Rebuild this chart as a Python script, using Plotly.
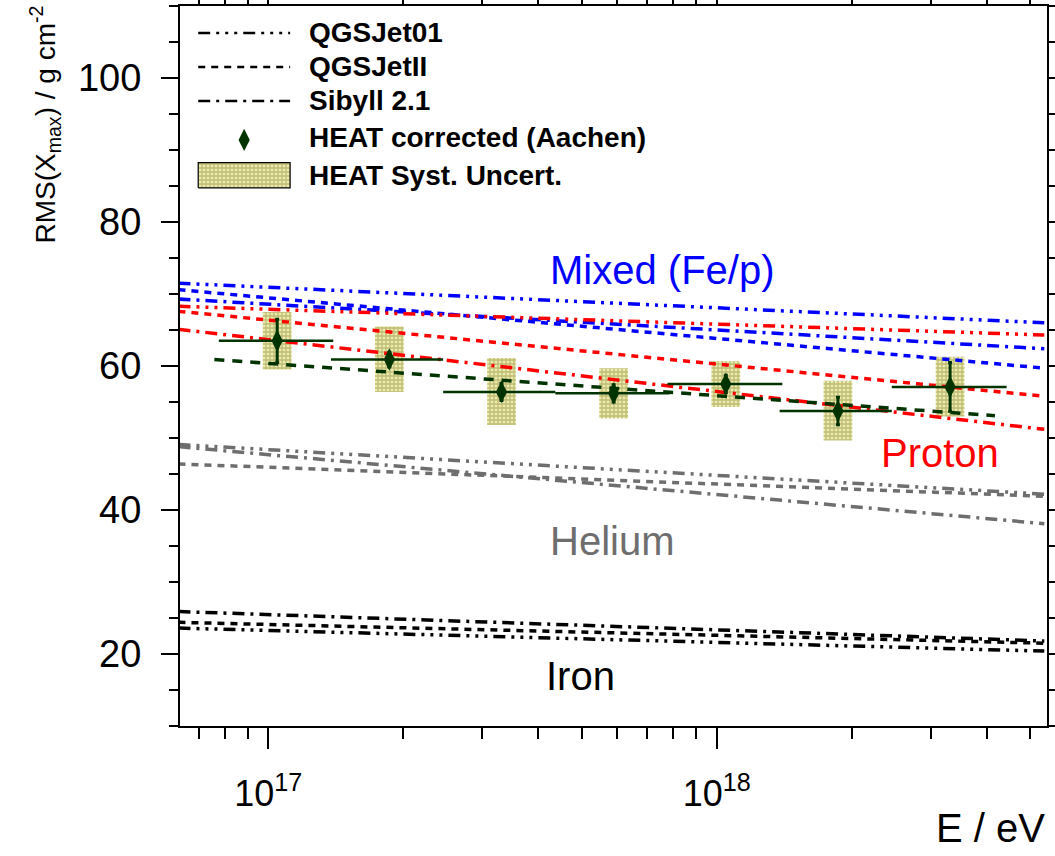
import plotly.graph_objects as go

# ---------------------------------------------------------------
# Model predictions: RMS(Xmax) at the two ends of the energy range
# ---------------------------------------------------------------
lg_model = [16.80, 18.73]          # log10(E / eV)

proton_qgsjet01 = [68.3, 64.3]
proton_qgsjetII = [67.6, 55.8]
proton_sibyll = [65.1, 51.2]

mixed_qgsjet01 = [71.5, 66.0]
mixed_qgsjetII = [70.6, 59.7]
mixed_sibyll = [69.3, 62.4]

helium_qgsjet01 = [49.1, 42.2]
helium_qgsjetII = [46.4, 41.9]
helium_sibyll = [48.8, 38.1]

iron_qgsjet01 = [23.6, 20.4]
iron_qgsjetII = [24.4, 21.5]
iron_sibyll = [25.9, 21.8]

# ---------------------------------------------------------------
# HEAT measurement (bins in log10(E / eV))
# ---------------------------------------------------------------
heat_lgE = [17.02, 17.27, 17.52, 17.77, 18.02, 18.27, 18.52]
heat_lgE_lo = [16.89, 17.14, 17.39, 17.64, 17.89, 18.14, 18.39]
heat_lgE_hi = [17.145, 17.39, 17.64, 17.895, 18.146, 18.39, 18.646]
heat_rms = [63.5, 60.9, 56.4, 56.2, 57.5, 53.75, 57.1]
heat_stat = [3.0, 1.0, 1.2, 1.2, 1.2, 1.9, 3.4]
heat_sys_up = [4.0, 4.6, 4.7, 3.5, 3.2, 4.2, 4.2]
heat_sys_down = [4.0, 4.5, 4.6, 3.5, 3.2, 4.1, 4.1]

# straight-line fit through the HEAT points
fit_lgE = [16.88, 18.62]
fit_rms = [60.9, 53.1]

# legend and region labels
legend_labels = ["QGSJet01", "QGSJetII", "Sibyll 2.1",
                 "HEAT corrected (Aachen)", "HEAT Syst. Uncert."]
region_labels = ["Mixed (Fe/p)", "Proton", "Helium", "Iron"]

# ---------------------------------------------------------------
FONT = "Liberation Sans, Arial, Helvetica, sans-serif"
RED, BLUE, GREY, BLACK = "#ff0000", "#0000ff", "#6e6e6e", "#000000"
GREEN = "#003300"
OLIVE = "#8f8b2c"
OLIVE_BG = "#ecebb4"

DASH_QGS01 = "12px,6px,3px,6px,3px,6px,3px,6px"
DASH_QGSII = "7px,6px"
DASH_SIB = "12px,6px,3px,6px"

E_model = [10 ** v for v in lg_model]

fig = go.Figure()

# --- systematic uncertainty boxes (hatched) ---
BOX_HW = 0.032  # half width of a box in decades
bx, by = [], []
for lg, r, up, dn in zip(heat_lgE, heat_rms, heat_sys_up, heat_sys_down):
    x0, x1 = 10 ** (lg - BOX_HW), 10 ** (lg + BOX_HW)
    bx += [x0, x1, x1, x0, x0, None]
    by += [r - dn, r - dn, r + up, r + up, r - dn, None]
fig.add_trace(go.Scatter(
    x=bx, y=by, mode="lines", fill="toself",
    line=dict(width=0, color=OLIVE),
    fillcolor="rgba(0,0,0,0)",
    fillpattern=dict(shape="+", fgcolor=OLIVE, bgcolor=OLIVE_BG,
                     size=4, solidity=0.55),
    hoverinfo="skip", showlegend=False))

# --- model lines ---
models = [
    (mixed_qgsjet01, BLUE, DASH_QGS01), (mixed_qgsjetII, BLUE, DASH_QGSII),
    (mixed_sibyll, BLUE, DASH_SIB),
    (proton_qgsjet01, RED, DASH_QGS01), (proton_qgsjetII, RED, DASH_QGSII),
    (proton_sibyll, RED, DASH_SIB),
    (helium_qgsjet01, GREY, DASH_QGS01), (helium_qgsjetII, GREY, DASH_QGSII),
    (helium_sibyll, GREY, DASH_SIB),
    (iron_qgsjet01, BLACK, DASH_QGS01), (iron_qgsjetII, BLACK, DASH_QGSII),
    (iron_sibyll, BLACK, DASH_SIB),
]
for vals, col, dash in models:
    fig.add_trace(go.Scatter(x=E_model, y=vals, mode="lines",
                             line=dict(color=col, width=3.5, dash=dash),
                             hoverinfo="skip", showlegend=False))

# --- fit line ---
fig.add_trace(go.Scatter(x=[10 ** v for v in fit_lgE], y=fit_rms, mode="lines",
                         line=dict(color=GREEN, width=3.5, dash="10px,8px"),
                         hoverinfo="skip", showlegend=False))

# --- HEAT points ---
E_pts = [10 ** v for v in heat_lgE]
err_plus = [10 ** hi - e for hi, e in zip(heat_lgE_hi, E_pts)]
err_minus = [e - 10 ** lo for lo, e in zip(heat_lgE_lo, E_pts)]
fig.add_trace(go.Scatter(
    x=E_pts, y=heat_rms, mode="markers",
    marker=dict(symbol="diamond-tall", size=16, color=GREEN),
    error_x=dict(type="data", array=err_plus, arrayminus=err_minus,
                 color=GREEN, thickness=2.5, width=0),
    error_y=dict(type="data", array=heat_stat, color=GREEN,
                 thickness=3, width=2),
    showlegend=False))

# --- hand-built legend on an overlay axis spanning the frame ---
LX0, LX1 = 0.021, 0.127
rows_y = [0.9625, 0.9153, 0.8681, 0.8170, 0.7650]
for yy, dash in zip(rows_y[:3], [DASH_QGS01, DASH_QGSII, DASH_SIB]):
    fig.add_trace(go.Scatter(x=[LX0, LX1], y=[yy, yy], mode="lines",
                             line=dict(color=BLACK, width=2.5, dash=dash),
                             xaxis="x2", yaxis="y2",
                             hoverinfo="skip", showlegend=False))
fig.add_trace(go.Scatter(x=[(LX0 + LX1) / 2], y=[rows_y[3] - 0.003],
                         mode="markers",
                         marker=dict(symbol="diamond-tall", size=16, color=GREEN),
                         xaxis="x2", yaxis="y2",
                         hoverinfo="skip", showlegend=False))
ly0, ly1 = rows_y[4] - 0.0175, rows_y[4] + 0.0175
fig.add_trace(go.Scatter(x=[LX0, LX1, LX1, LX0, LX0], y=[ly0, ly0, ly1, ly1, ly0],
                         mode="lines", fill="toself",
                         line=dict(width=1.2, color=BLACK),
                         fillcolor="rgba(0,0,0,0)",
                         fillpattern=dict(shape="+", fgcolor=OLIVE,
                                          bgcolor=OLIVE_BG, size=4,
                                          solidity=0.55),
                         xaxis="x2", yaxis="y2",
                         hoverinfo="skip", showlegend=False))

annotations = []
for yy, txt in zip(rows_y, legend_labels):
    annotations.append(dict(
        x=0.147, y=yy, xref="paper", yref="paper", text="<b>%s</b>" % txt,
        showarrow=False, xanchor="left", yanchor="middle",
        font=dict(family=FONT, size=28, color=BLACK)))

# --- region labels (x in log10 units) ---
region_pos = [(17.878, 73.3, BLUE), (18.497, 47.9, RED),
              (17.766, 35.7, GREY), (17.697, 16.9, BLACK)]
for txt, (lx, ly, col) in zip(region_labels, region_pos):
    annotations.append(dict(x=lx, y=ly, xref="x", yref="y", text=txt,
                            showarrow=False, xanchor="center", yanchor="middle",
                            font=dict(family=FONT, size=40, color=col)))

# --- axis titles ---
annotations.append(dict(
    x=1.0, y=-0.142, xref="paper", yref="paper", text="E / eV",
    showarrow=False, xanchor="right", yanchor="middle",
    font=dict(family=FONT, size=40, color=BLACK)))
annotations.append(dict(
    x=-0.156, y=1.003, xref="paper", yref="paper",
    text="RMS(X<sub>max</sub>) / g cm<sup>-2</sup>", textangle=-90,
    showarrow=False, xanchor="center", yanchor="top",
    font=dict(family=FONT, size=28, color=BLACK)))

minor_x = [7e16, 8e16, 9e16] + [k * 1e17 for k in range(2, 10)] + \
          [k * 1e18 for k in range(2, 6)]

fig.update_layout(
    width=1055, height=856,
    margin=dict(l=180, r=8, t=6, b=130, autoexpand=False),
    paper_bgcolor="white", plot_bgcolor="white",
    font=dict(family=FONT, color=BLACK),
    annotations=annotations,
    xaxis=dict(
        type="log", range=[16.8034, 18.736], automargin=False,
        showgrid=False, zeroline=False,
        showline=True, linecolor=BLACK, linewidth=2, mirror="ticks",
        ticks="outside", ticklen=21, tickwidth=1.5, tickcolor=BLACK,
        tickvals=[1e17, 1e18], ticktext=["10<sup>17</sup>", "10<sup>18</sup>"],
        tickfont=dict(family=FONT, size=36, color=BLACK),
        ticklabelstandoff=14,
        minor=dict(tickvals=minor_x, ticks="outside", ticklen=11,
                   tickwidth=1.5, tickcolor=BLACK, showgrid=False),
    ),
    yaxis=dict(
        range=[10, 110], automargin=False,
        showgrid=False, zeroline=False,
        showline=True, linecolor=BLACK, linewidth=2, mirror="ticks",
        ticks="outside", ticklen=17, tickwidth=1.5, tickcolor=BLACK,
        tickvals=[20, 40, 60, 80, 100],
        tickfont=dict(family=FONT, size=38, color=BLACK),
        ticklabelstandoff=12,
        minor=dict(dtick=5, ticks="outside", ticklen=9,
                   tickwidth=1.5, tickcolor=BLACK, showgrid=False),
    ),
    xaxis2=dict(overlaying="x", range=[0, 1], visible=False,
                fixedrange=True, anchor="y2", automargin=False),
    yaxis2=dict(overlaying="y", range=[0, 1], visible=False,
                fixedrange=True, anchor="x2", automargin=False),
)

fig.write_html("out.html")
